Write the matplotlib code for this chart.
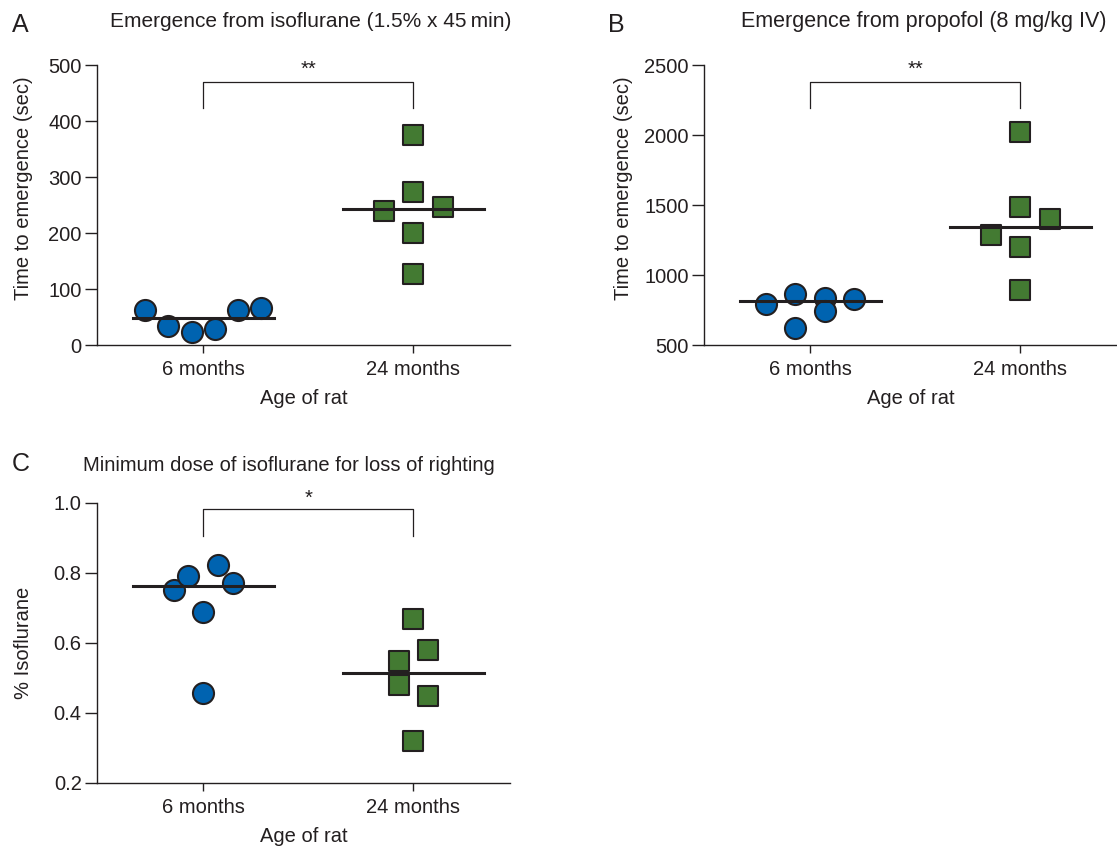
import numpy as np
import matplotlib
matplotlib.use('Agg')
import matplotlib.pyplot as plt
from matplotlib.ticker import FormatStrFormatter

plt.rcParams['font.family'] = ['Liberation Sans', 'DejaVu Sans']

# data
groups = ['6 months', '24 months']

iso_6 = [63, 34, 23, 29, 62.5, 66]
iso_24 = [376, 274, 239, 247, 200, 127]

prop_6 = [795, 866, 624, 836, 747, 829]
prop_24 = [2019, 1486, 1400, 1286, 1204, 895]

dose_6 = [0.752, 0.79, 0.822, 0.771, 0.689, 0.458]
dose_24 = [0.669, 0.579, 0.549, 0.48, 0.449, 0.319]

# horizontal spread of the dots (in marker steps)
iso_6_jit = np.array([-2.5, -1.5, -0.5, 0.5, 1.5, 2.5]) * 0.11
iso_24_jit = np.array([0, 0, -1, 1, 0, 0]) * 0.14
prop_6_jit = np.array([-1.5, -0.5, -0.5, 0.5, 0.5, 1.5]) * 0.14
prop_24_jit = np.array([0, 0, 1, -1, 0, 0]) * 0.14
dose_6_jit = np.array([-2, -1, 1, 2, 0, 0]) * 0.07
dose_24_jit = np.array([0, 1, -1, -1, 1, 0]) * 0.07

dark = '#231f20'
blue = '#0063b0'
green = '#437a32'
fs = 14.5


def panel(ax, a, b, ja, jb, ylim, yticks, ylabel, bracket, stars, star_y, lab_xy):
    ax.scatter(0 + ja, a, s=230, marker='o', color=blue, edgecolor=dark,
               linewidth=1.5, zorder=3, clip_on=False)
    ax.scatter(1 + jb, b, s=200, marker='s', color=green, edgecolor=dark,
               linewidth=1.5, zorder=3, clip_on=False)
    ax.plot([-0.335, 0.335], [np.median(a)] * 2, color=dark, lw=2.2, zorder=4)
    ax.plot([1 - 0.335, 1 + 0.335], [np.median(b)] * 2, color=dark, lw=2.2, zorder=4)
    # significance bracket
    ax.plot([0, 0, 1, 1], [bracket[1], bracket[0], bracket[0], bracket[1]],
            color=dark, lw=0.9, clip_on=False)
    ax.text(0.5, star_y, stars, ha='center', va='center', fontsize=fs,
            color=dark, clip_on=False)
    ax.set_xlim(-0.505, 1.46)
    ax.set_ylim(ylim)
    ax.set_yticks(yticks)
    ax.set_xticks([0, 1])
    ax.set_xticklabels(groups)
    ax.set_xlabel('Age of rat', fontsize=fs, color=dark, labelpad=7)
    ax.set_ylabel(ylabel, fontsize=fs, color=dark)
    ax.yaxis.set_label_coords(*lab_xy)
    for s in ['top', 'right']:
        ax.spines[s].set_visible(False)
    for s in ['left', 'bottom']:
        ax.spines[s].set_color(dark)
        ax.spines[s].set_linewidth(1.0)
    ax.tick_params(direction='out', width=1.0, color=dark,
                   labelsize=fs, labelcolor=dark)
    ax.tick_params(axis='y', length=9, pad=2)
    ax.tick_params(axis='x', length=6, pad=5)


fig = plt.figure(figsize=(11.17, 8.46), dpi=100)

axA = fig.add_axes([0.0868, 0.592, 0.3698, 0.331])
panel(axA, iso_6, iso_24, iso_6_jit, iso_24_jit, (0, 500),
      [0, 100, 200, 300, 400, 500], 'Time to emergence (sec)',
      (470, 423), '**', 492, (-0.155, 0.56))

axB = fig.add_axes([0.6303, 0.592, 0.3697, 0.331])
panel(axB, prop_6, prop_24, prop_6_jit, prop_24_jit, (500, 2500),
      [500, 1000, 1500, 2000, 2500], 'Time to emergence (sec)',
      (2383, 2193), '**', 2470, (-0.172, 0.56))

axC = fig.add_axes([0.0868, 0.0745, 0.3698, 0.331])
panel(axC, dose_6, dose_24, dose_6_jit, dose_24_jit, (0.2, 1.0),
      [0.2, 0.4, 0.6, 0.8, 1.0], '% Isoflurane',
      (0.982, 0.907), '*', 1.012, (-0.155, 0.5))
axC.yaxis.set_major_formatter(FormatStrFormatter('%.1f'))

H = 846.0
W = 1117.0
fig.text(12 / W, 1 - 32 / H, 'A', fontsize=18, color=dark, va='baseline')
fig.text(311 / W, 1 - 27 / H, 'Emergence from isoflurane (1.5% x 45\u2009min)',
         fontsize=15, color=dark, ha='center', va='baseline')
fig.text(608 / W, 1 - 32 / H, 'B', fontsize=18, color=dark, va='baseline')
fig.text(924 / W, 1 - 27 / H, 'Emergence from propofol (8 mg/kg IV)',
         fontsize=15.5, color=dark, ha='center', va='baseline')
fig.text(12 / W, 1 - 471 / H, 'C', fontsize=18, color=dark, va='baseline')
fig.text(289 / W, 1 - 471 / H, 'Minimum dose of isoflurane for loss of righting',
         fontsize=14.5, color=dark, ha='center', va='baseline')

fig.savefig('out.png', dpi=100)
